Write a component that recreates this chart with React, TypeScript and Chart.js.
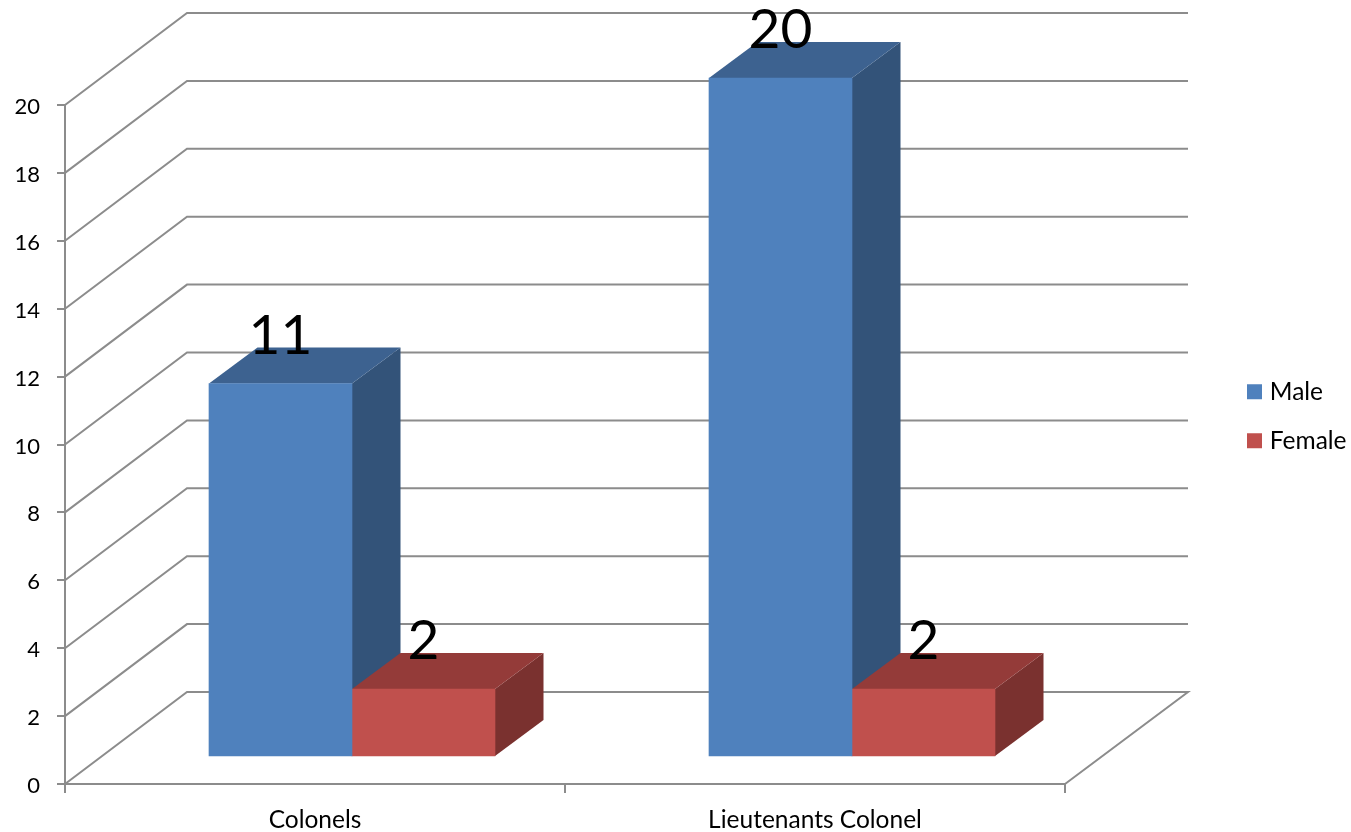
import React, { useEffect, useRef } from "react";
import { Chart, registerables } from "chart.js";

Chart.register(...registerables);

const categories = ["Colonels", "Lieutenants Colonel"];
const maleValues = [11, 20];
const femaleValues = [2, 2];
const seriesNames = ["Male", "Female"];

const WIDTH = 1351;
const HEIGHT = 832;
const FONT = "Lato";
const AXIS_GRAY = "#8c8c8c";

// Oblique projection: how far the walls recede and where the bars stand on the floor.
const WALL_DX = 122;
const WALL_DY = -92;
const BAR_DX = 37;
const BAR_DY = -27;
const FACE_DX = 48.5;
const FACE_DY = -36;

const faceColors = [
  { top: "#3d6290", side: "#335379" },
  { top: "#943b39", side: "#7a312f" },
];

const wallsPlugin = {
  id: "walls",
  beforeDatasetsDraw(chart: any) {
    const { ctx, scales } = chart;
    const yScale = scales.y;
    const left = yScale.right;
    const right = scales.x.right;
    ctx.save();
    ctx.strokeStyle = AXIS_GRAY;
    ctx.lineWidth = 2;
    yScale.ticks.forEach((tick: any) => {
      const y = yScale.getPixelForValue(tick.value);
      ctx.beginPath();
      ctx.moveTo(left, y);
      ctx.lineTo(left + WALL_DX, y + WALL_DY);
      ctx.lineTo(right + WALL_DX + 1, y + WALL_DY);
      if (tick.value === 0) ctx.lineTo(right, y);
      ctx.stroke();
    });
    ctx.restore();
  },
};

// Side and top faces are painted first; the bar elements supply the front faces.
const barFacesPlugin = {
  id: "barFaces",
  beforeDatasetsDraw(chart: any) {
    const { ctx } = chart;
    ctx.save();
    chart.data.datasets.forEach((_: any, i: number) => {
      chart.getDatasetMeta(i).data.forEach((bar: any) => {
        const l = bar.x - bar.width / 2 + BAR_DX;
        const r = bar.x + bar.width / 2 + BAR_DX;
        const t = bar.y + BAR_DY;
        const b = bar.base + BAR_DY;
        ctx.fillStyle = faceColors[i].side;
        ctx.beginPath();
        ctx.moveTo(r, t);
        ctx.lineTo(r + FACE_DX, t + FACE_DY);
        ctx.lineTo(r + FACE_DX, b + FACE_DY);
        ctx.lineTo(r, b);
        ctx.closePath();
        ctx.fill();
        ctx.fillStyle = faceColors[i].top;
        ctx.beginPath();
        ctx.moveTo(l, t);
        ctx.lineTo(l + FACE_DX, t + FACE_DY);
        ctx.lineTo(r + FACE_DX, t + FACE_DY);
        ctx.lineTo(r, t);
        ctx.closePath();
        ctx.fill();
      });
    });
    ctx.restore();
  },
  beforeDatasetDraw(chart: any) {
    chart.ctx.save();
    chart.ctx.translate(BAR_DX, BAR_DY);
  },
  afterDatasetDraw(chart: any) {
    chart.ctx.restore();
  },
  afterDatasetsDraw(chart: any) {
    const { ctx } = chart;
    ctx.save();
    ctx.fillStyle = "#000000";
    ctx.font = `55px ${FONT}`;
    ctx.textAlign = "center";
    ctx.textBaseline = "alphabetic";
    chart.data.datasets.forEach((dataset: any, i: number) => {
      chart.getDatasetMeta(i).data.forEach((bar: any, j: number) => {
        ctx.fillText(String(dataset.data[j]), bar.x + BAR_DX, bar.y + BAR_DY - 30);
      });
    });
    ctx.restore();
  },
};

// The legend floats to the right of the plot, outside the layout flow.
const legendPlacementPlugin = {
  id: "legendPlacement",
  afterLayout(chart: any) {
    const legend = chart.legend;
    legend.left = 1227;
    legend.right = WIDTH;
    legend.top = 355;
    legend.bottom = 480;
  },
};

export default function App() {
  const canvasRef = useRef<HTMLCanvasElement | null>(null);

  useEffect(() => {
    const chart = new Chart(canvasRef.current as HTMLCanvasElement, {
      type: "bar",
      data: {
        labels: categories,
        datasets: [
          { label: seriesNames[0], data: maleValues, backgroundColor: "#4f81bd", clip: false },
          { label: seriesNames[1], data: femaleValues, backgroundColor: "#c0504d", clip: false },
        ],
      } as any,
      options: {
        animation: false,
        responsive: false,
        layout: { padding: { top: 105, right: 286, left: 0, bottom: 0 } },
        datasets: { bar: { barThickness: 143 } },
        scales: {
          x: {
            grid: {
              drawOnChartArea: false,
              drawTicks: true,
              tickLength: 9,
              color: AXIS_GRAY,
              lineWidth: 2,
            },
            border: { color: AXIS_GRAY, width: 2 },
            ticks: {
              color: "#000000",
              font: { family: FONT, size: 24.5 },
              padding: 12,
              maxRotation: 0,
              autoSkip: false,
            },
            afterFit(axis: any) {
              axis.height = 48;
            },
          },
          y: {
            min: 0,
            max: 20,
            grid: {
              drawOnChartArea: false,
              drawTicks: true,
              tickLength: 8,
              color: AXIS_GRAY,
              lineWidth: 2,
            },
            border: { color: AXIS_GRAY, width: 2 },
            ticks: {
              stepSize: 2,
              color: "#000000",
              font: { family: FONT, size: 22 },
              padding: 17,
              labelOffset: 2,
            },
            afterFit(axis: any) {
              axis.width = 65;
            },
          },
        },
        plugins: {
          tooltip: { enabled: false },
          legend: {
            position: "chartArea",
            align: "start",
            labels: {
              // A small swatch with a thick outline keeps the label close to its square.
              boxWidth: 6,
              boxHeight: 6,
              padding: 24.5,
              color: "#000000",
              font: { family: FONT, size: 24.5 },
              generateLabels(c: any) {
                return Chart.defaults.plugins.legend.labels
                  .generateLabels(c)
                  .map((item: any) => ({ ...item, strokeStyle: item.fillStyle, lineWidth: 9 }));
              },
            },
          },
        },
      } as any,
      plugins: [wallsPlugin, barFacesPlugin, legendPlacementPlugin],
    });
    return () => chart.destroy();
  }, []);

  return (
    <div style={{ position: "absolute", left: 0, top: 0, width: WIDTH, height: HEIGHT }}>
      <canvas ref={canvasRef} width={WIDTH} height={HEIGHT} style={{ display: "block" }} />
    </div>
  );
}
